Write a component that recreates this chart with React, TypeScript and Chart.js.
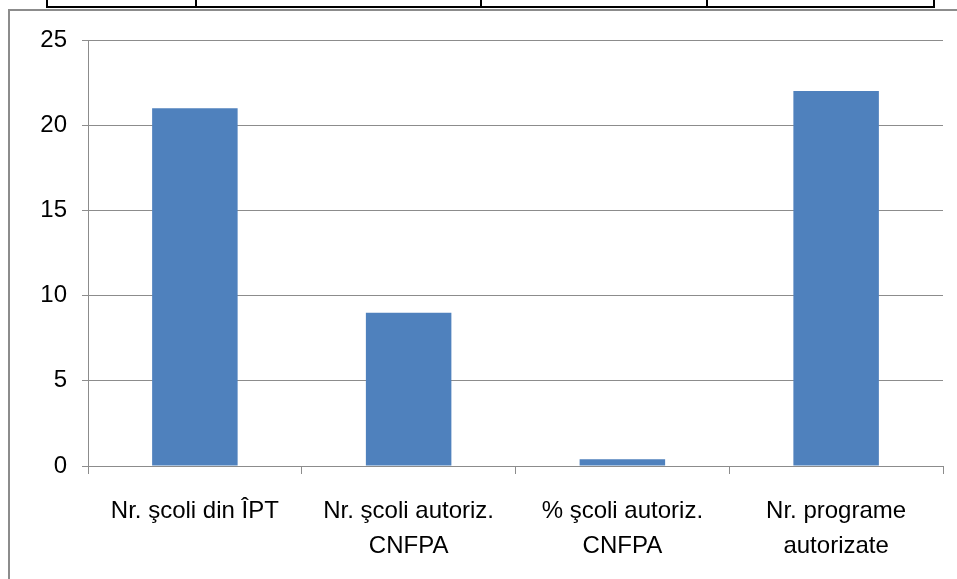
import React, { useEffect, useRef } from "react";
import { Chart, registerables } from "chart.js";
Chart.register(...registerables);

const categories: string[][] = [
  ["Nr. şcoli din ÎPT"],
  ["Nr. şcoli autoriz.", "CNFPA"],
  ["% şcoli autoriz.", "CNFPA"],
  ["Nr. programe", "autorizate"],
];
const values: number[] = [21, 9, 0.4, 22];
const yTicks = { min: 0, max: 25, step: 5 };

const FONT = "'Liberation Sans Narrow', 'Liberation Sans', sans-serif";

export default function App() {
  const ref = useRef<HTMLCanvasElement>(null);
  useEffect(() => {
    document.body.style.margin = "0";
    const chart = new Chart(ref.current!, {
      type: "bar",
      data: {
        labels: categories,
        datasets: [
          {
            data: values,
            backgroundColor: "#4F81BD",
            borderWidth: 0,
            categoryPercentage: 1,
            barPercentage: 0.4,
          },
        ],
      },
      options: {
        animation: false,
        responsive: false,
        layout: { padding: { top: 40, right: 14, left: 0, bottom: 0 } },
        plugins: { legend: { display: false }, tooltip: { enabled: false } },
        scales: {
          y: {
            min: yTicks.min,
            max: yTicks.max,
            ticks: { stepSize: yTicks.step, color: "#000", font: { family: FONT, size: 24 }, padding: 15 },
            grid: { color: "#8c8c8c", lineWidth: 1, tickLength: 6 },
            border: { color: "#8c8c8c", width: 1 },
            afterFit: (s: any) => { s.width = 88; },
          },
          x: {
            offset: true,
            ticks: { color: "#000", font: { family: FONT, size: 24, lineHeight: 1.45 }, padding: 20, maxRotation: 0 },
            grid: { offset: true, drawOnChartArea: false, color: "#8c8c8c", tickLength: 8 },
            border: { color: "#8c8c8c", width: 1 },
            afterFit: (s: any) => { s.height = 113; },
          },
        },
      },
    });
    return () => chart.destroy();
  }, []);

  const tableX = [46, 195, 480, 706, 933];
  return (
    <div style={{ position: "relative", width: 957, height: 579, overflow: "hidden", background: "#fff" }}>
      <div style={{ position: "absolute", left: 46, top: 6, width: 889, height: 2, background: "#000" }} />
      {tableX.map((x) => (
        <div key={x} style={{ position: "absolute", left: x, top: 0, width: 2, height: 8, background: "#000" }} />
      ))}
      <div style={{ position: "absolute", left: 8, top: 9, width: 949, height: 2, background: "#8c8c8c" }} />
      <div style={{ position: "absolute", left: 8, top: 9, width: 2, height: 570, background: "#8c8c8c" }} />
      <canvas ref={ref} width={957} height={579} style={{ position: "absolute", left: 0, top: 0 }} />
    </div>
  );
}
